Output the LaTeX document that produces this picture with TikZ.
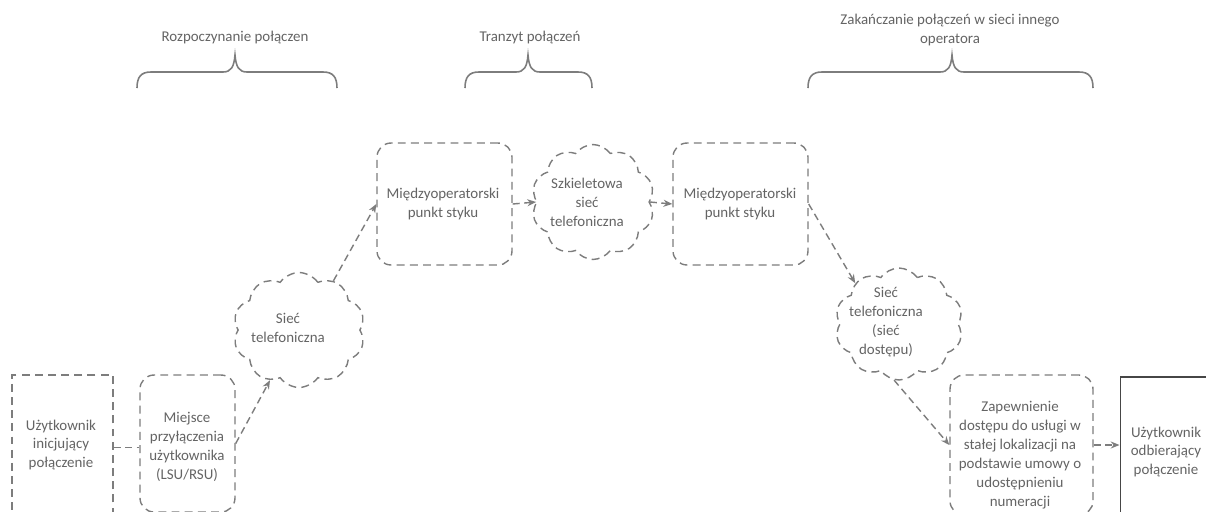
\documentclass[tikz,border=0pt]{standalone}
\usepackage{fontspec}
\setmainfont{Carlito}
\usetikzlibrary{shapes.symbols,arrows.meta}
\definecolor{txt}{RGB}{100,100,100}
\definecolor{ln}{RGB}{125,125,125}
\definecolor{dk}{RGB}{70,70,70}
\tikzset{
  x=0.02cm, y=-0.02cm,
  lbl/.style={text=txt, align=center, inner sep=0pt, font=\fontsize{8.5}{10.8}\selectfont},
  rbox/.style={draw=ln, dashed, dash pattern=on 4.5pt off 3pt, line width=0.8pt, rounded corners=8pt, inner sep=0pt},
  sbox/.style={draw=ln, dashed, dash pattern=on 4.5pt off 3pt, line width=0.8pt, inner sep=0pt},
  cl/.style={cloud, cloud puffs=10, cloud puff arc=110, draw=ln, dashed, dash pattern=on 4.5pt off 3pt, line width=0.8pt, inner sep=0pt, cloud ignores aspect},
  conn/.style={draw=ln, dashed, dash pattern=on 4pt off 2.5pt, line width=0.8pt},
  arr/.style={conn, -{Stealth[length=5pt,width=4pt,fill=dk]}},
  brace/.style={draw=ln, line width=0.9pt}
}
\begin{document}
\begin{tikzpicture}
\clip (0,0) rectangle (1206,511);
\fill[white] (0,0) rectangle (1206,511);

% titles
\node[lbl] (t1) at (235,38) {Rozpoczynanie połączen};
\node[lbl] (t2) at (530,38) {Tranzyt połączeń};
\node[lbl] (t3) at (950,30) {Zakańczanie połączeń w sieci innego\\operatora};

% braces
\draw[brace] (137,88) .. controls (137,77) and (141,72) .. (151,72) -- (223,72) .. controls (231,72) and (234,67) .. (235,55) .. controls (236,67) and (239,72) .. (247,72) -- (323,72) .. controls (333,72) and (337,77) .. (337,88);
\draw[brace] (465,88) .. controls (465,77) and (469,72) .. (479,72) -- (516,72) .. controls (524,72) and (527,67) .. (528,55) .. controls (529,67) and (532,72) .. (540,72) -- (578,72) .. controls (588,72) and (592,77) .. (592,88);
\draw[brace] (808,88) .. controls (808,77) and (812,72) .. (822,72) -- (940,72) .. controls (948,72) and (951,67) .. (952,55) .. controls (953,67) and (956,72) .. (964,72) -- (1079,72) .. controls (1089,72) and (1093,77) .. (1093,88);

% boxes
\node[sbox, minimum width=2.02cm, minimum height=2.9cm] (u1) at (62.5,447.5) {};
\node[lbl] (u1t) at (61,445) {Użytkownik\\inicjujący\\połączenie};

\node[rbox, minimum width=1.9cm, minimum height=2.74cm] (lsu) at (187.5,443.5) {};
\node[lbl] (lsut) at (187,447) {Miejsce\\przyłączenia\\użytkownika\\(LSU/RSU)};

\node[cl, minimum width=2.64cm, minimum height=2.3cm] (c1) at (299,330) {};
\node[lbl] (c1t) at (288,328) {Sieć\\telefoniczna};

\node[rbox, minimum width=2.7cm, minimum height=2.44cm] (m1) at (444.5,204) {};
\node[lbl] (m1t) at (443,204) {Międzyoperatorski\\punkt styku};

\node[cl, minimum width=2.46cm, minimum height=2.3cm] (c2) at (593,202) {};
\node[lbl] (c2t) at (587,202) {Szkieletowa\\sieć\\telefoniczna};

\node[rbox, minimum width=2.7cm, minimum height=2.44cm] (m2) at (740.5,204) {};
\node[lbl] (m2t) at (740,204) {Międzyoperatorski\\punkt styku};

\node[cl, minimum width=2.56cm, minimum height=2.24cm] (c3) at (899,324) {};
\node[lbl] (c3t) at (886,322) {Sieć\\telefoniczna\\(sieć\\dostępu)};

\node[rbox, minimum width=2.86cm, minimum height=2.8cm] (zap) at (1021.5,445) {};
\node[lbl] (zapt) at (1020,455) {Zapewnienie\\dostępu do usługi w\\stałej lokalizacji na\\podstawie umowy o\\udostępnieniu\\numeracji};

\node[draw=dk, line width=0.6pt, minimum width=2.4cm, minimum height=2.86cm, inner sep=0pt] (u2) at (1180,448.5) {};
\node[lbl] (u2t) at (1166,452) {Użytkownik\\odbierający\\połączenie};

% connectors
\draw[conn] (u1.east) -- (u1.east -| lsu.west);
\draw[arr] (lsu.east) -- (c1.240);
\draw[arr] (c1.55) -- (m1.west);
\draw[arr] (m1.east) -- (c2.west);
\draw[arr] (c2.east) -- (m2.west);
\draw[arr] (m2.east) -- (c3.137);
\draw[arr] (c3.265) -- (zap.west);
\draw[arr] (zap.east) -- (zap.east -| u2.west);
\end{tikzpicture}
\end{document}
